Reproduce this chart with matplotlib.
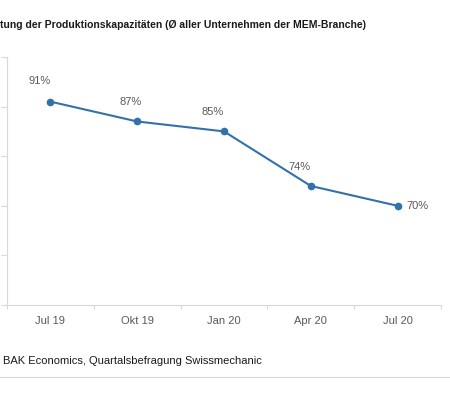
import matplotlib
matplotlib.use('Agg')
from matplotlib import pyplot as plt

quarters = ['Jul 19', 'Okt 19', 'Jan 20', 'Apr 20', 'Jul 20']
auslastung = [91, 87, 85, 74, 70]
labels = ['91%', '87%', '85%', '74%', '70%']
y_ticks = [50, 60, 70, 80, 90, 100]

plt.rcParams['font.family'] = ['Liberation Sans Narrow', 'Liberation Sans', 'DejaVu Sans']

fig = plt.figure(figsize=(4.5, 3.95), dpi=100)
ax = fig.add_axes([7 / 450, 90 / 395, 434 / 450, 248 / 395])

x = list(range(len(quarters)))
ax.plot(x, auslastung, color='#3371ac', linewidth=1.5, marker='o', markersize=4.5)

# data labels (last one sits right of its point)
offsets = [(-8, 15), (-5, 14), (-8, 14), (-8, 14), (14, 0)]
for i, (v, lab) in enumerate(zip(auslastung, labels)):
    dx, dy = offsets[i]
    ax.annotate(lab, (i, v), xytext=(dx, dy), textcoords='offset points',
                ha='center', va='center', fontsize=8, color='#595959')

ax.set_xlim(-0.5, len(quarters) - 0.5)
ax.set_ylim(50, 100)
ax.set_yticks(y_ticks)
ax.set_yticklabels([''] * len(y_ticks))
ax.set_xticks([i - 0.5 for i in range(len(quarters) + 1)])
ax.set_xticklabels([''] * (len(quarters) + 1))
ax.set_xticks(x, minor=True)
ax.set_xticklabels(quarters, minor=True, fontsize=8, color='#595959')
ax.tick_params(axis='x', which='minor', length=0, pad=8)
ax.tick_params(axis='x', which='major', length=3, color='#d9d9d9')
ax.tick_params(axis='y', length=4, color='#d9d9d9')

for s in ['top', 'right']:
    ax.spines[s].set_visible(False)
for s in ['left', 'bottom']:
    ax.spines[s].set_color('#d9d9d9')
    ax.spines[s].set_linewidth(0.8)

fig.text(0, 1 - 25 / 395, 'tung der Produktionskapazitäten (Ø aller Unternehmen der MEM-Branche)',
         fontsize=7.5, fontweight='bold', color='#1a1a1a', va='center', ha='left')
fig.text(3 / 450, 1 - 361 / 395, 'BAK Economics, Quartalsbefragung Swissmechanic',
         fontsize=8, color='#1a1a1a', va='center', ha='left')
fig.add_artist(plt.Line2D([0, 1], [1 - 377 / 395, 1 - 377 / 395], color='#d9d9d9',
                          linewidth=0.8, transform=fig.transFigure))

plt.savefig('out.png', dpi=100)
